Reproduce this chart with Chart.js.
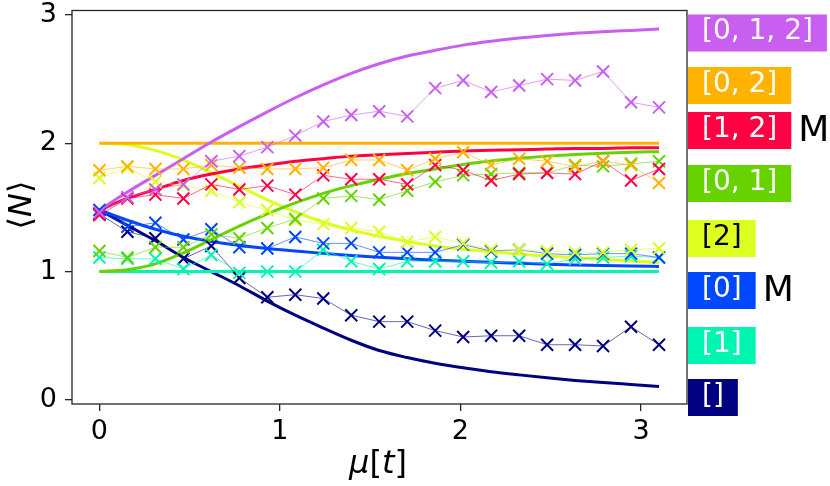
<!DOCTYPE html>
<html>
<head>
<meta charset="utf-8">
<script src="https://cdn.jsdelivr.net/npm/chart.js@4.4.1/dist/chart.umd.min.js"></script>
<style>
  html, body { margin: 0; padding: 0; background: #fff; }
  #wrap { width: 830px; height: 486px; }
</style>
</head>
<body>
<div id="wrap"><canvas id="chart" width="830" height="486"></canvas></div>
<script>
// time axis mu[t]
const muT = [0, 0.155, 0.31, 0.465, 0.62, 0.775, 0.93, 1.085, 1.24, 1.395, 1.55,
             1.705, 1.86, 2.015, 2.17, 2.325, 2.48, 2.635, 2.79, 2.945, 3.1];

const subsets = ['[0, 1, 2]', '[0, 2]', '[1, 2]', '[0, 1]', '[2]', '[0]', '[1]', '[]'];
const yTicks = [0, 1, 2, 3];
const xTicks = [0, 1, 2, 3];

// smooth curves (theory)
const fit012 = [1.48, 1.62, 1.75, 1.88, 2.01, 2.13, 2.245, 2.355, 2.455, 2.545, 2.62, 2.68, 2.725, 2.765, 2.795, 2.82, 2.84, 2.857, 2.87, 2.88, 2.89];
const fit02 = [2, 2, 2, 2, 2, 2, 2, 2, 2, 2, 2, 2, 2, 2, 2, 2, 2, 2, 2, 2, 2];
const fit12 = [1.48, 1.57, 1.64, 1.71, 1.76, 1.80, 1.83, 1.86, 1.88, 1.90, 1.91, 1.92, 1.93, 1.94, 1.945, 1.95, 1.955, 1.96, 1.96, 1.965, 1.965];
const fit01 = [1.0, 1.015, 1.06, 1.145, 1.25, 1.355, 1.45, 1.535, 1.61, 1.67, 1.72, 1.765, 1.80, 1.835, 1.862, 1.883, 1.90, 1.913, 1.923, 1.93, 1.935];
const fit2 = [2.0, 1.99, 1.945, 1.87, 1.77, 1.665, 1.56, 1.465, 1.385, 1.325, 1.275, 1.235, 1.20, 1.175, 1.155, 1.137, 1.122, 1.108, 1.095, 1.082, 1.07];
const fit0 = [1.48, 1.40, 1.33, 1.275, 1.235, 1.205, 1.18, 1.16, 1.142, 1.126, 1.112, 1.10, 1.09, 1.08, 1.072, 1.065, 1.058, 1.052, 1.047, 1.043, 1.04];
const fit1 = [1, 1, 1, 1, 1, 1, 1, 1, 1, 1, 1, 1, 1, 1, 1, 1, 1, 1, 1, 1, 1];
const fitNone = [1.48, 1.36, 1.24, 1.11, 1.00, 0.89, 0.77, 0.66, 0.56, 0.465, 0.385, 0.33, 0.285, 0.25, 0.22, 0.195, 0.172, 0.152, 0.135, 0.12, 0.105];

// simulated runs (x markers)
const sim012 = [1.46, 1.58, 1.64, 1.68, 1.86, 1.90, 1.97, 2.06, 2.17, 2.22, 2.25, 2.21, 2.43, 2.49, 2.40, 2.45, 2.50, 2.49, 2.56, 2.32, 2.28];
const sim02 = [1.79, 1.82, 1.80, 1.80, 1.83, 1.81, 1.80, 1.80, 1.81, 1.87, 1.87, 1.79, 1.88, 1.93, 1.83, 1.88, 1.86, 1.82, 1.86, 1.83, 1.69];
const sim12 = [1.44, 1.57, 1.60, 1.57, 1.68, 1.64, 1.67, 1.60, 1.75, 1.72, 1.72, 1.68, 1.83, 1.79, 1.71, 1.76, 1.77, 1.76, 1.86, 1.71, 1.80];
const sim01 = [1.16, 1.11, 1.19, 1.19, 1.29, 1.26, 1.34, 1.41, 1.57, 1.59, 1.56, 1.63, 1.70, 1.75, 1.76, 1.77, 1.77, 1.83, 1.82, 1.84, 1.86];
const sim2 = [1.73, 1.81, 1.70, 1.67, 1.63, 1.54, 1.48, 1.40, 1.37, 1.34, 1.31, 1.23, 1.27, 1.22, 1.17, 1.17, 1.16, 1.15, 1.15, 1.17, 1.18];
const sim0 = [1.48, 1.35, 1.38, 1.25, 1.33, 1.19, 1.18, 1.27, 1.22, 1.22, 1.15, 1.15, 1.15, 1.21, 1.16, 1.17, 1.14, 1.13, 1.14, 1.14, 1.11];
const sim1 = [1.11, 1.10, 1.10, 1.02, 1.13, 0.99, 1.00, 1.00, 1.17, 1.08, 1.02, 1.08, 1.08, 1.08, 1.07, 1.08, 1.06, 1.10, 1.11, 1.12, 1.11];
const simNone = [1.45, 1.31, 1.26, 1.10, 1.20, 0.95, 0.80, 0.82, 0.79, 0.66, 0.61, 0.61, 0.54, 0.49, 0.50, 0.50, 0.43, 0.43, 0.42, 0.57, 0.43];

const fits = [fit012, fit02, fit12, fit01, fit2, fit0, fit1, fitNone];
const sims = [sim012, sim02, sim12, sim01, sim2, sim0, sim1, simNone];
const mSubsets = ['[1, 2]', '[0]'];

// styling
const colors = ['#c95ff0', '#ffb300', '#ff0044', '#66d300', '#dcff1f', '#0048ff', '#00f5b0', '#000080'];
const labelInk = ['#fff', '#fff', '#fff', '#fff', '#000', '#fff', '#fff', '#fff'];
const labelCenters = [33, 85.5, 130.5, 183.5, 238.5, 290.5, 345.5, 397.5];
const FONT = "'DejaVu Sans', 'Liberation Sans', sans-serif";

function toPoints(ys) {
  return muT.map((x, i) => ({ x: x, y: ys[i] }));
}

function fade(hex, a) {
  const n = parseInt(hex.slice(1), 16);
  return 'rgba(' + (n >> 16) + ',' + ((n >> 8) & 255) + ',' + (n & 255) + ',' + a + ')';
}

const datasets = [];
sims.forEach((ys, i) => {
  datasets.push({
    label: subsets[i] + ' sim',
    data: toPoints(ys),
    borderColor: fade(colors[i], 0.6),
    borderWidth: 1,
    pointStyle: 'crossRot',
    pointRadius: 8.5,
    pointBorderWidth: 2,
    pointBorderColor: colors[i],
    pointBackgroundColor: colors[i],
    tension: 0
  });
});
fits.forEach((ys, i) => {
  datasets.push({
    label: subsets[i],
    data: toPoints(ys),
    borderColor: colors[i],
    borderWidth: 3,
    pointRadius: 0,
    cubicInterpolationMode: 'monotone'
  });
});

function drawParts(ctx, parts, size) {
  // draws a mix of upright / italic pieces centred on (0,0)
  let total = 0;
  parts.forEach(p => {
    ctx.font = (p.it ? 'italic ' : '') + size + 'px ' + FONT;
    p.w = ctx.measureText(p.t).width;
    total += p.w;
  });
  let x = -total / 2;
  parts.forEach(p => {
    ctx.font = (p.it ? 'italic ' : '') + size + 'px ' + FONT;
    ctx.fillText(p.t, x, 0);
    x += p.w;
  });
}

const decor = {
  id: 'decor',
  afterDraw(chart) {
    const ctx = chart.ctx;
    const a = chart.chartArea;
    ctx.save();
    // frame
    ctx.strokeStyle = '#262626';
    ctx.lineWidth = 1.3;
    ctx.strokeRect(a.left, a.top, a.right - a.left, a.bottom - a.top);

    // axis titles
    ctx.fillStyle = '#000';
    ctx.textBaseline = 'middle';
    ctx.textAlign = 'left';
    ctx.save();
    ctx.translate(378, 465);
    drawParts(ctx, [{ t: 'μ', it: true }, { t: '[' }, { t: 't', it: true }, { t: ']' }], 32);
    ctx.restore();
    ctx.save();
    ctx.translate(23, 205);
    ctx.rotate(-Math.PI / 2);
    drawParts(ctx, [{ t: '⟨' }, { t: 'N', it: true }, { t: '⟩' }], 32);
    ctx.restore();

    // subset labels on the right
    ctx.font = '28px ' + FONT;
    const boxLeft = a.right + 1, pad = 14, boxH = 37;
    subsets.forEach((name, i) => {
      const cy = labelCenters[i];
      const w = ctx.measureText(name).width + 2 * pad;
      ctx.fillStyle = colors[i];
      ctx.fillRect(boxLeft, cy - boxH / 2, w, boxH);
      ctx.fillStyle = labelInk[i];
      ctx.fillText(name, boxLeft + pad, cy - 1);
      if (mSubsets.includes(name)) {
        ctx.save();
        ctx.font = '36px ' + FONT;
        ctx.fillStyle = '#000';
        ctx.fillText('M', boxLeft + w + 7, cy + 1);
        ctx.restore();
      }
    });
    ctx.restore();
  }
};

const tickFont = { family: FONT, size: 27 };

new Chart(document.getElementById('chart'), {
  type: 'line',
  data: { datasets: datasets },
  options: {
    responsive: false,
    animation: false,
    devicePixelRatio: 1,
    layout: { padding: { left: 0, top: 6, right: 143, bottom: 0 } },
    plugins: { legend: { display: false }, tooltip: { enabled: false } },
    scales: {
      x: {
        type: 'linear',
        min: -0.152,
        max: 3.255,
        afterBuildTicks: s => { s.ticks = xTicks.map(v => ({ value: v })); },
        afterFit: s => { s.height = 82; s.paddingLeft = 0; s.paddingRight = 0; },
        border: { display: false },
        grid: { drawOnChartArea: false, tickLength: 7, color: '#262626', lineWidth: 1.3 },
        ticks: { font: tickFont, color: '#000', padding: 5, maxRotation: 0 }
      },
      y: {
        type: 'linear',
        min: -0.032,
        max: 3.035,
        afterBuildTicks: s => { s.ticks = yTicks.map(v => ({ value: v })); },
        afterFit: s => { s.width = 72; s.paddingTop = 0; s.paddingBottom = 0; },
        border: { display: false },
        grid: { drawOnChartArea: false, tickLength: 7, color: '#262626', lineWidth: 1.3 },
        ticks: { font: tickFont, color: '#000', padding: 8 }
      }
    }
  },
  plugins: [decor]
});
</script>
</body>
</html>
